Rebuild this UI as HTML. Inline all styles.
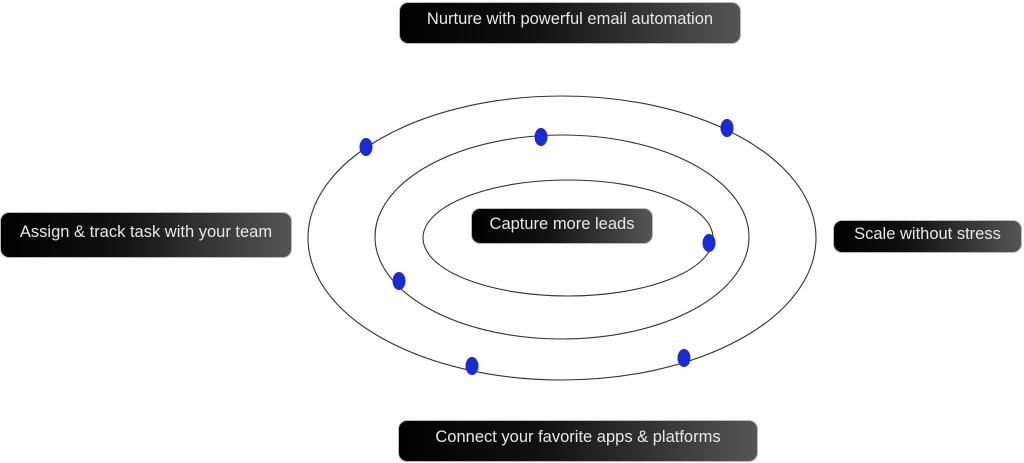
<!DOCTYPE html>
<html><head><style>
body{margin:0;width:1024px;height:463px;background:#fff;position:relative;overflow:hidden;font-family:"Liberation Sans",sans-serif}
.b{position:absolute;box-sizing:border-box;border:1px solid #bbb;border-radius:9px;background:linear-gradient(90deg,#000 0%,#111 40%,#555 100%);color:#e8e8e8;font-size:16.5px;display:flex;align-items:center;justify-content:center;white-space:nowrap;padding-bottom:4px}
svg{position:absolute;left:0;top:0}
</style></head><body>
<svg width="1024" height="463">
<g fill="none" stroke="#333" stroke-width="1.1">
<ellipse cx="562" cy="238" rx="254" ry="142"/>
<ellipse cx="562" cy="237" rx="187" ry="102"/>
<ellipse cx="568" cy="238" rx="145" ry="58"/>
</g>
<g fill="#1a2bd6">
<ellipse cx="366" cy="147" rx="6.5" ry="9"/>
<ellipse cx="541" cy="137" rx="6.5" ry="9"/>
<ellipse cx="727" cy="128" rx="6.5" ry="9"/>
<ellipse cx="709" cy="243" rx="6.5" ry="9"/>
<ellipse cx="399" cy="281" rx="6.5" ry="9"/>
<ellipse cx="472" cy="366" rx="6.5" ry="9"/>
<ellipse cx="684" cy="358" rx="6.5" ry="9"/>
</g>
</svg>
<div class="b" style="left:399px;top:2px;width:342px;height:42px;padding-bottom:8px">Nurture with powerful email automation</div>
<div class="b" style="left:0;top:212px;width:292px;height:46px;padding-bottom:6px">Assign &amp; track task with your team</div>
<div class="b" style="left:471px;top:208px;width:182px;height:36px">Capture more leads</div>
<div class="b" style="left:833px;top:220px;width:189px;height:33px">Scale without stress</div>
<div class="b" style="left:398px;top:420px;width:360px;height:42px;padding-bottom:8px">Connect your favorite apps &amp; platforms</div>
</body></html>
